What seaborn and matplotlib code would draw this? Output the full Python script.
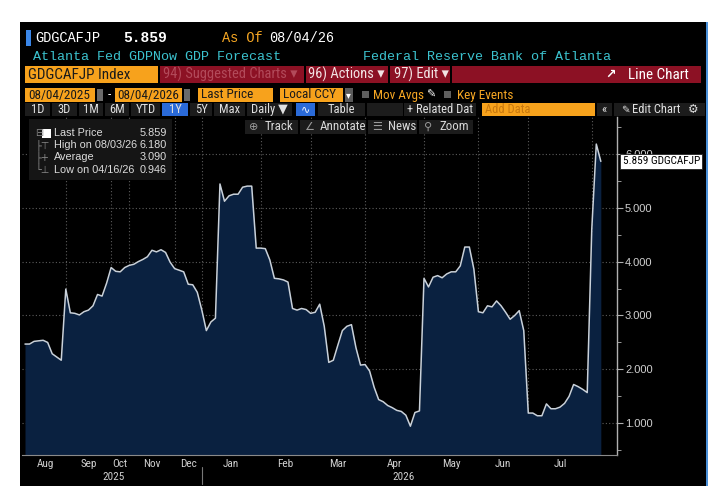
import matplotlib.pyplot as plt
import numpy as np
import seaborn as sns
from matplotlib import font_manager
from matplotlib.patches import Rectangle
from matplotlib.ticker import MultipleLocator, FormatStrFormatter

# GDPNow readings, one per observation (08/04/2025 - 08/04/2026)
gdp_now = [2.47, 2.47, 2.52, 2.53, 2.54, 2.50, 2.29, 2.23, 2.17, 3.49,
           3.05, 3.04, 3.01, 3.07, 3.10, 3.18, 3.39, 3.36, 3.60, 3.89,
           3.82, 3.81, 3.89, 3.93, 3.95, 4.00, 4.04, 4.09, 4.21, 4.18,
           4.22, 4.17, 3.99, 3.87, 3.84, 3.81, 3.58, 3.57, 3.43, 3.10,
           2.72, 2.88, 2.95, 5.44, 5.12, 5.22, 5.25, 5.25, 5.38, 5.40,
           5.40, 4.25, 4.25, 4.24, 4.03, 3.69, 3.68, 3.66, 3.62, 3.13,
           3.10, 3.13, 3.11, 3.04, 3.06, 3.21, 2.80, 2.13, 2.17, 2.45,
           2.72, 2.80, 2.83, 2.40, 2.08, 2.09, 1.97, 1.67, 1.44, 1.40,
           1.33, 1.29, 1.24, 1.22, 1.15, 0.946, 1.20, 1.23, 3.69, 3.53,
           3.71, 3.74, 3.70, 3.77, 3.81, 3.81, 3.92, 4.27, 4.27, 3.86,
           3.07, 3.05, 3.18, 3.16, 3.27, 3.18, 3.06, 2.93, 3.00, 3.09,
           2.72, 1.19, 1.19, 1.14, 1.14, 1.36, 1.27, 1.27, 1.30, 1.37,
           1.50, 1.72, 1.68, 1.63, 1.57, 4.60, 6.18, 5.859]

# observations per calendar month (the axis is by observation, not by day)
month_names = ['Aug', 'Sep', 'Oct', 'Nov', 'Dec', 'Jan', 'Feb', 'Mar', 'Apr', 'May', 'Jun', 'Jul', '']
obs_per_month = [9, 10, 4, 10, 6, 13, 11, 12, 13, 12, 11, 14, 3]
year_names = ['2025', '2026']
months_per_year = [5, 8]

legend_rows = [('Last Price', '5.859'), ('High on 08/03/26', '6.180'),
               ('Average', '3.090'), ('Low on 04/16/26', '0.946')]
y_ticks = [1, 2, 3, 4, 5, 6]

sns.set_style('dark')

# pick a condensed face if one is installed, else shrink a regular one
installed = {f.name for f in font_manager.fontManager.ttflist}
NARROW, K = 'Liberation Sans', 0.82
for name in ('Liberation Sans Narrow', 'Roboto Condensed', 'Open Sans Condensed'):
    if name in installed:
        NARROW, K = name, 0.95
        break
plt.rcParams['font.family'] = [NARROW, 'DejaVu Sans']
MONO = ['Liberation Mono', 'DejaVu Sans Mono']
SANS = ['Liberation Sans', 'DejaVu Sans']
SYM = ['DejaVu Sans']

ORANGE = '#f7a21c'
DARK_RED = '#8c1124'
BTN = '#1c1c1c'
W, H = 727, 493

fig = plt.figure(figsize=(W / 100, H / 100), dpi=100, facecolor='white')


def box(x0, y0, x1, y1, color, z=1):
    fig.patches.append(Rectangle((x0 / W, 1 - y1 / H), (x1 - x0) / W, (y1 - y0) / H,
                                 transform=fig.transFigure, facecolor=color,
                                 edgecolor='none', zorder=z))


def txt(x, y, s, color='#d8d8d8', size=8.5, ha='left', family=None, weight='normal', z=6):
    if family is None:
        family = [NARROW, 'DejaVu Sans']
        size = size * K
    fig.text(x / W, 1 - y / H, s, color=color, fontsize=size, ha=ha, va='center',
             weight=weight, zorder=z, family=family)


# terminal panel
box(20, 22, 707, 486, 'black', z=-5)
box(706, 22, 708, 486, '#4a90d9', z=-4)

# header lines
box(25.5, 30, 31, 46, '#3a86e8')
txt(35, 38, 'GDGCAFJP', 'white', 9.8, family=MONO)
txt(123, 38, '5.859', 'white', 10.5, family=MONO, weight='bold')
txt(222, 38, 'As Of', '#f5a623', 9.8, family=MONO)
txt(269, 38, '08/04/26', 'white', 9.8, family=MONO)
txt(33, 57, 'Atlanta Fed GDPNow GDP Forecast', '#3cc3cf', 9.6, family=MONO)
txt(363, 57, 'Federal Reserve Bank of Atlanta', '#3cc3cf', 9.6, family=MONO)

# menu bar
box(25, 66, 158, 83, ORANGE)
box(160, 66, 701, 83, DARK_RED)
for gx in (303.5, 388, 450):
    box(gx, 66, gx + 2, 83, 'black')
txt(28, 74.5, 'GDGCAFJP Index', '#1a1a1a', 11.5)
txt(163, 74.5, '94) Suggested Charts \u25be', '#b24a5a', 11)
txt(308, 74.5, '96) Actions \u25be', '#f2e4e4', 11)
txt(394, 74.5, '97) Edit \u25be', '#f2e4e4', 11)
txt(611, 74.5, '\u2197', 'white', 9, ha='center', family=SYM, weight='bold')
txt(628, 74.5, 'Line Chart', 'white', 11.5)

# date range row
for x0, x1, label in [(25, 95, '08/04/2025'), (114.5, 182, '08/04/2026'),
                      (198, 272.5, 'Last Price'), (280, 343, 'Local CCY')]:
    box(x0, 88, x1, 102, ORANGE)
    txt(x0 + 3, 95, label, '#1a1a1a', 10)
box(96.5, 89, 103, 101, '#6a6a6a')
box(183.5, 89, 190, 101, '#6a6a6a')
txt(109, 95, '-', 'white', 10, ha='center')
box(344.5, 88, 353, 102, '#5a5a5a')
txt(348.7, 95, '\u25be', 'white', 7, ha='center', family=SYM)
box(361.5, 91, 368.5, 98, '#5e5e5e')
txt(373, 95, 'Mov Avgs', '#f5a623', 10)
txt(431, 95, '\u270e', 'white', 8, ha='center', family=SYM)
box(444, 91, 451, 98, '#5e5e5e')
txt(457, 95, 'Key Events', '#f5a623', 10)

# range buttons row
buttons = [(25, 50, '1D', BTN), (52, 77, '3D', BTN), (79, 103, '1M', BTN),
           (105, 129, '6M', BTN), (131, 160, 'YTD', BTN), (162, 188, '1Y', '#2a6ad8'),
           (190, 212, '5Y', BTN), (214, 245, 'Max', BTN), (247, 292, 'Daily \u25bc', BTN),
           (296, 315, '', '#2a6ad8'), (318, 365, 'Table', BTN), (367, 403, '', BTN),
           (404, 476, '+ Related Dat', BTN), (597, 612, '\u00ab', BTN),
           (614, 705, '', BTN)]
for x0, x1, label, col in buttons:
    box(x0, 103, x1, 116, col)
    if label:
        txt((x0 + x1) / 2, 109.5, label, '#e0e0e0', 9.5, ha='center')
txt(305.5, 109.5, '\u223f', 'white', 8, ha='center', family=SYM)
box(482, 103, 595, 116, ORANGE)
txt(485, 109.5, 'Add Data', '#c8780e', 9.5)
txt(625, 109.5, '\u270e', '#e0e0e0', 7.5, ha='center', family=SYM)
txt(632, 109.5, 'Edit Chart', '#e0e0e0', 9.5)
txt(693, 109.5, '\u2699', '#e0e0e0', 8.5, ha='center', family=SYM)

# chart area
ax = fig.add_axes([22 / W, 38 / H, (616.7 - 22) / W, (455 - 116.7) / H])
ax.set_facecolor('black')
obs = np.arange(len(gdp_now))
ax.fill_between(obs, gdp_now, 0, color='#0a2140', linewidth=0, zorder=1)
sns.lineplot(x=obs, y=gdp_now, ax=ax, color='#c9d1da', linewidth=1.1, zorder=2)

ax.set_xlim(-0.66, 130.5)
ax.set_ylim(0.412, 6.688)

bounds = np.cumsum([0] + obs_per_month)
ax.set_xticks(bounds[1:-1])
ax.set_xticklabels([])
ax.set_yticks(y_ticks)
ax.yaxis.set_minor_locator(MultipleLocator(0.5))
ax.yaxis.set_major_formatter(FormatStrFormatter('%.3f'))
ax.yaxis.tick_right()
ax.tick_params(axis='x', length=0)
ax.tick_params(axis='y', which='major', length=4, color='#b0b0b0', labelcolor='#d0d0d0',
               labelsize=8, pad=2)
ax.tick_params(axis='y', which='minor', length=3, color='#b0b0b0')
for lab in ax.get_yticklabels():
    lab.set_family(SANS)
ax.grid(True, which='major', color='#5c5c5c', linestyle=(0, (1, 2)), linewidth=0.8)
ax.set_xlabel('')
ax.set_ylabel('')
for side in ('left', 'top'):
    ax.spines[side].set_visible(False)
ax.spines['right'].set_color('#b0b0b0')
ax.spines['right'].set_linewidth(1)
ax.spines['bottom'].set_color('#8a8a8a')
ax.spines['bottom'].set_linewidth(0.8)

# month and year labels under the axis
xt = ax.get_xaxis_transform()
for i, name in enumerate(month_names):
    if name:
        ax.text((bounds[i] + bounds[i + 1]) / 2, -0.027, name, transform=xt,
                ha='center', va='center', color='#d0d0d0', fontsize=8.5 * K)
ybounds = np.cumsum([0] + months_per_year)
for j, yname in enumerate(year_names):
    start = bounds[ybounds[j]]
    end = bounds[ybounds[j + 1]] if j + 1 < len(year_names) else len(gdp_now)
    ax.text((start + end) / 2, -0.066, yname, transform=xt, ha='center', va='center',
            color='#d0d0d0', fontsize=8.5 * K)
ax.axvline(bounds[ybounds[1]], ymin=-0.087, ymax=-0.036, color='#777777',
           linewidth=0.8, clip_on=False)

# last price tag
ax.text(1.0101, gdp_now[-1], '%.3f GDGCAFJP' % gdp_now[-1],
        transform=ax.get_yaxis_transform(), ha='left', va='center', color='black',
        fontsize=8.5 * K, zorder=10,
        bbox=dict(boxstyle='square,pad=0.2', facecolor='white', edgecolor='#222222', linewidth=0.6))

# track / annotate toolbar inside chart
for x0, x1, glyph, label in [(245, 298, '\u2295', 'Track'), (300, 366, '\u2220', 'Annotate'),
                             (368, 417, '\u2630', 'News'), (419, 473, '\u26b2', 'Zoom')]:
    box(x0, 120, x1, 134, BTN, z=5)
    txt(x0 + 9, 127, glyph, '#9a9a9a', 8, ha='center', family=SYM)
    txt(x0 + 20, 127, label, '#d8d8d8', 9.8)

# legend box
box(29, 119, 172, 180, '#151515', z=5)
row_y = [132.7, 144.7, 157.3, 170]
glyphs = ['\u229f', '\u251c\u22a4', '\u251c+', '\u2514\u22a5']
for (label, value), gy, g in zip(legend_rows, row_y, glyphs):
    txt(35, gy, g, '#8a8a8a', 7, family=SYM)
    txt(54, gy, label, '#dcdcdc', 7.8, family=SANS)
    txt(166.7, gy, value, '#dcdcdc', 7.8, ha='right', family=SANS)
box(41.7, 128.5, 50.7, 137.5, 'white', z=6)

fig.savefig('out.png', dpi=100, facecolor='white')
